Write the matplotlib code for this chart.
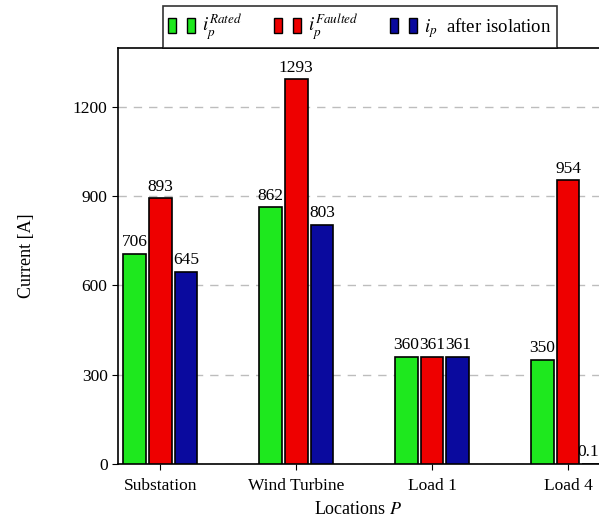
import matplotlib
matplotlib.use('Agg')
import matplotlib.pyplot as plt
import numpy as np
from matplotlib.patches import Patch
from matplotlib.legend_handler import HandlerTuple

plt.rcParams['font.family'] = 'Liberation Serif'
plt.rcParams['mathtext.fontset'] = 'stix'

locations = ['Substation', 'Wind Turbine', 'Load 1', 'Load 4']
i_rated = [706, 862, 360, 350]
i_faulted = [893, 1293, 361, 954]
i_isolated = [645, 803, 361, 0.1]
labels_isolated = ['645', '803', '361', '0.1']

colors = ['#1ee81e', '#ee0000', '#0a0a9e']
series = [i_rated, i_faulted, i_isolated]
series_labels = [[str(v) for v in i_rated], [str(v) for v in i_faulted], labels_isolated]

fig = plt.figure(figsize=(5.99, 5.27), dpi=100)
ax = fig.add_axes([118 / 599, 1 - 464 / 527, 1 - 118 / 599, (464 - 48) / 527])

x = np.arange(len(locations))
w = 0.168
step = 0.19
for k, (vals, labs, c) in enumerate(zip(series, series_labels, colors)):
    xs = x + (k - 1) * step
    ax.bar(xs, vals, width=w, color=c, edgecolor='black', linewidth=1.2, zorder=3)
    for xi, v, t in zip(xs, vals, labs):
        ax.text(xi - 0.04 * (t == '0.1'), v + 12, t, ha='center', va='bottom',
                fontsize=12.5, zorder=2.9)

ax.set_xlim(-0.31, 3.228)
ax.set_ylim(0, 1398)
ax.set_yticks([0, 300, 600, 900, 1200])
ax.set_xticks(x)
ax.set_xticklabels(locations)
ax.tick_params(axis='both', labelsize=12.5, direction='out', length=4, width=0.8)
ax.tick_params(axis='x', pad=6)
ax.yaxis.grid(True, linestyle=(0, (6, 5)), color='#bdbdbd', linewidth=1.0, zorder=0)
ax.set_axisbelow(True)
ax.spines['right'].set_visible(False)
for s in ['left', 'bottom', 'top']:
    ax.spines[s].set_linewidth(1.2)

ax.set_ylabel('Current [A]', fontsize=13, labelpad=27)
ax.set_xlabel('Locations $\\mathit{P}$', fontsize=13, labelpad=5)

# legend entries: two small boxes per series
handles = []
for c in colors:
    handles.append((Patch(facecolor=c, edgecolor='black', linewidth=1.0),
                    Patch(facecolor=c, edgecolor='black', linewidth=1.0)))
leg_labels = ['$i_p^{Rated}$', '$i_p^{Faulted}$', '$i_p$  after isolation']
leg = fig.legend(handles, leg_labels, handler_map={tuple: HandlerTuple(ndivide=None, pad=0.6)},
                 loc='lower center', bbox_to_anchor=(360 / 599, 1 - 48 / 527), ncol=3,
                 fontsize=13.5, frameon=True, fancybox=False, edgecolor='black',
                 handlelength=1.4, handleheight=0.8, columnspacing=1.7,
                 borderpad=0.3, borderaxespad=0, handletextpad=0.4)
leg.get_frame().set_linewidth(1.2)

fig.savefig('out.png', dpi=100)
